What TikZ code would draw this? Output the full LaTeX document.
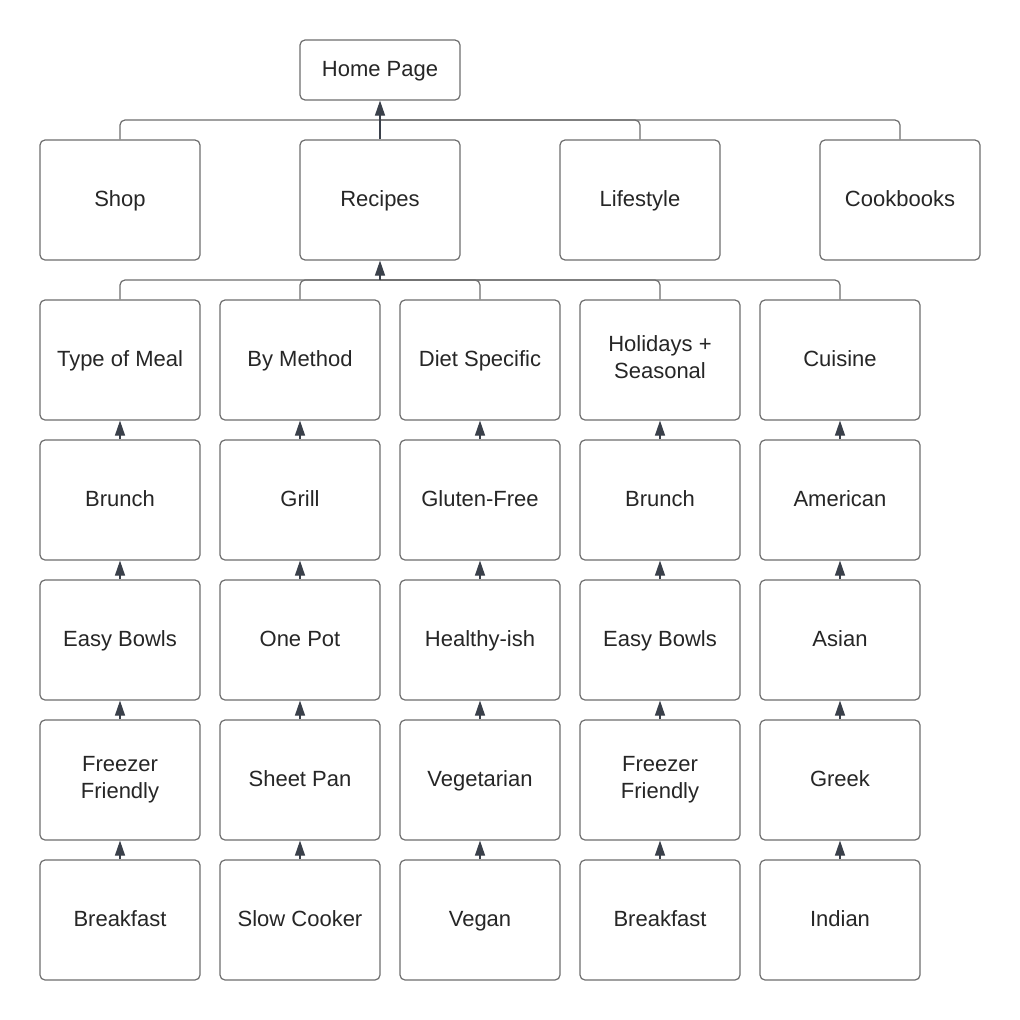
\documentclass[tikz,border=0pt]{standalone}
\usepackage{fontspec}
\setmainfont{Liberation Sans}
\usetikzlibrary{arrows.meta}
\definecolor{boxline}{HTML}{6E6E6E}
\definecolor{tipcol}{HTML}{3A404A}
\begin{document}
\begin{tikzpicture}[x=1pt,y=-1pt,
	every node/.style={draw=boxline,line width=1.2pt,rounded corners=5pt,
		minimum width=160pt,minimum height=120pt,align=center,
		text height=16pt,text depth=4pt,
		font=\fontsize{22}{27}\selectfont,text=black!85},
	topbox/.style={minimum height=60pt},
	twoline/.style={text height=,text depth=5pt},
	conn/.style={draw=boxline,line width=1.2pt,rounded corners=5pt},
	arr/.style={draw=tipcol,line width=1.2pt,-{Triangle[length=15pt,width=10pt,color=tipcol]}}]
\fill[white] (0,0) rectangle (1020,1020);
\useasboundingbox (0,0) rectangle (1020,1020);
% top level
\node[topbox] (home) at (380,70) {Home Page};
\node (shop) at (120,200) {Shop};
\node (recipes) at (380,200) {Recipes};
\node (lifestyle) at (640,200) {Lifestyle};
\node (cookbooks) at (900,200) {Cookbooks};
\coordinate (hubA) at (380,120);
\draw[conn] (shop.north) |- (hubA);
\draw[conn] (lifestyle.north) |- (hubA);
\draw[conn] (cookbooks.north) |- (hubA);
\draw[arr] (recipes.north) -- (home.south);
% recipe categories
\node (meal) at (120,360) {Type of Meal};
\node (method) at (300,360) {By Method};
\node (diet) at (480,360) {Diet Specific};
\node[twoline] (holidays) at (660,360) {Holidays +\\Seasonal};
\node (cuisine) at (840,360) {Cuisine};
\coordinate (hubB) at (380,280);
\draw[conn] (meal.north) |- (hubB);
\draw[conn] (method.north) |- (hubB);
\draw[conn] (diet.north) |- (hubB);
\draw[conn] (holidays.north) |- (hubB);
\draw[conn] (cuisine.north) |- (hubB);
\draw[arr] (hubB) -- (recipes.south);
% type of meal
\node (mealA) at (120,500) {Brunch};
\node (mealB) at (120,640) {Easy Bowls};
\node[twoline] (mealC) at (120,780) {Freezer\\Friendly};
\node (mealD) at (120,920) {Breakfast};
\draw[arr] (mealA.north) -- (meal.south);
\draw[arr] (mealB.north) -- (mealA.south);
\draw[arr] (mealC.north) -- (mealB.south);
\draw[arr] (mealD.north) -- (mealC.south);
% by method
\node (methodA) at (300,500) {Grill};
\node (methodB) at (300,640) {One Pot};
\node (methodC) at (300,780) {Sheet Pan};
\node (methodD) at (300,920) {Slow Cooker};
\draw[arr] (methodA.north) -- (method.south);
\draw[arr] (methodB.north) -- (methodA.south);
\draw[arr] (methodC.north) -- (methodB.south);
\draw[arr] (methodD.north) -- (methodC.south);
% diet specific
\node (dietA) at (480,500) {Gluten-Free};
\node (dietB) at (480,640) {Healthy-ish};
\node (dietC) at (480,780) {Vegetarian};
\node (dietD) at (480,920) {Vegan};
\draw[arr] (dietA.north) -- (diet.south);
\draw[arr] (dietB.north) -- (dietA.south);
\draw[arr] (dietC.north) -- (dietB.south);
\draw[arr] (dietD.north) -- (dietC.south);
% holidays + seasonal
\node (holidaysA) at (660,500) {Brunch};
\node (holidaysB) at (660,640) {Easy Bowls};
\node[twoline] (holidaysC) at (660,780) {Freezer\\Friendly};
\node (holidaysD) at (660,920) {Breakfast};
\draw[arr] (holidaysA.north) -- (holidays.south);
\draw[arr] (holidaysB.north) -- (holidaysA.south);
\draw[arr] (holidaysC.north) -- (holidaysB.south);
\draw[arr] (holidaysD.north) -- (holidaysC.south);
% cuisine
\node (cuisineA) at (840,500) {American};
\node (cuisineB) at (840,640) {Asian};
\node (cuisineC) at (840,780) {Greek};
\node (cuisineD) at (840,920) {Indian};
\draw[arr] (cuisineA.north) -- (cuisine.south);
\draw[arr] (cuisineB.north) -- (cuisineA.south);
\draw[arr] (cuisineC.north) -- (cuisineB.south);
\draw[arr] (cuisineD.north) -- (cuisineC.south);
\end{tikzpicture}
\end{document}
